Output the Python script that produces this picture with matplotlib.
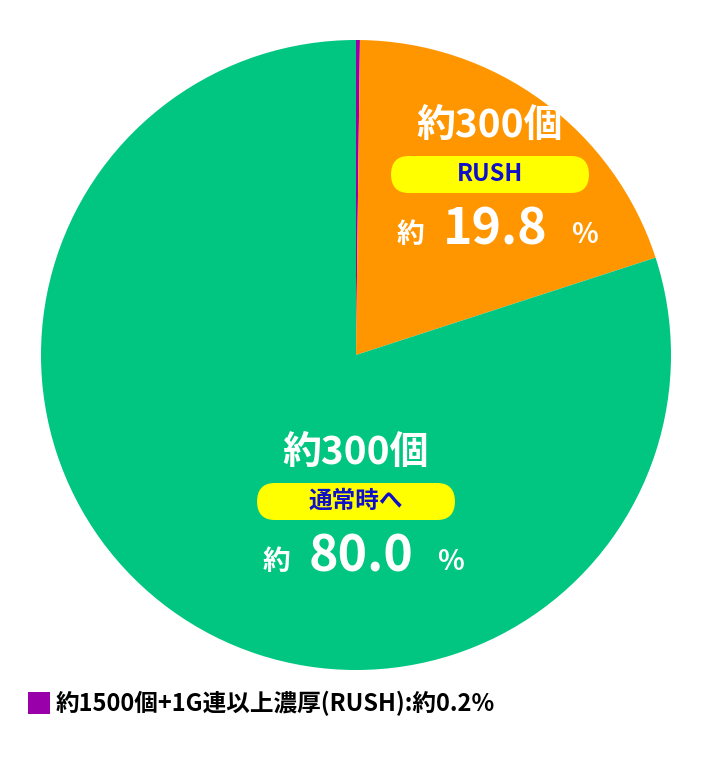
import matplotlib
matplotlib.use("Agg")
import matplotlib.pyplot as plt
from matplotlib.patches import FancyBboxPatch, Rectangle

plt.rcParams['font.family'] = ['Noto Sans CJK JP', 'DejaVu Sans']

labels = ['約1500個+1G連以上濃厚(RUSH)', 'RUSH', '通常時へ']
values = [0.2, 19.8, 80.0]
colors = ['#9900aa', '#ff9600', '#00c681']

W, H = 712, 760
fig = plt.figure(figsize=(W/100, H/100), dpi=100)
cx, cy, r = 356, 355, 315
ax = fig.add_axes([(cx-r)/W, (H-cy-r)/H, 2*r/W, 2*r/H])
ax.pie(values, colors=colors, startangle=90, counterclock=False, radius=1,
       wedgeprops=dict(linewidth=0))
ax.set_xlim(-1, 1); ax.set_ylim(-1, 1); ax.set_aspect('auto'); ax.axis('off')

def T(x, y, s, size, color='white', ha='center'):
    fig.text(x/W, 1-y/H, s, fontsize=size, color=color, ha=ha, va='center',
             fontweight='bold')

def pill(x0, x1, y0, y1):
    p = FancyBboxPatch((x0/W, 1-y1/H), (x1-x0)/W, (y1-y0)/H,
                       boxstyle="round,pad=0,rounding_size=0.025",
                       transform=fig.transFigure, facecolor='#ffff00', edgecolor='none')
    fig.patches.append(p)

def block(x, y_top, top, mid, pct):
    T(x, y_top, top, 28)
    pill(x-99, x+99, y_top+31, y_top+68)
    T(x, y_top+49, mid, 17, color='#1010c8')
    yb = y_top+105
    T(x-80, yb+5, '約', 20, ha='center')
    T(x+5, yb, pct, 36)
    T(x+95, yb+5, '%', 20)

block(490, 125, '約300個', labels[1], f'{values[1]:.1f}')
block(356, 452, '約300個', labels[2], f'{values[2]:.1f}')

fig.patches.append(Rectangle((28/W, 1-714/H), 22/W, 22/H, transform=fig.transFigure,
                             facecolor=colors[0], edgecolor='none'))
T(56, 703, f'約1500個+1G連以上濃厚(RUSH):約{values[0]}%', 17, color='black', ha='left')

fig.savefig('out.png', dpi=100)
